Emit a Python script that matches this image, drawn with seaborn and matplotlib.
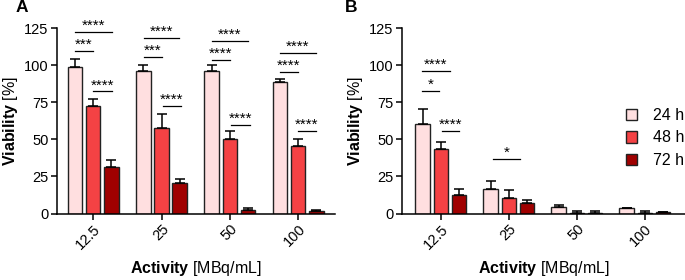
import pandas as pd
import seaborn as sns
import matplotlib as mpl
from matplotlib import pyplot as plt

# values
activity = ["12.5", "25", "50", "100"]
times = ["24 h", "48 h", "72 h"]

a_mean = {"24 h": [98.6, 96.3, 96.3, 88.5],
          "48 h": [72.4, 57.3, 50.4, 45.2],
          "72 h": [31.4, 20.4, 2.4, 1.5]}
a_err = {"24 h": [5.6, 4.1, 4.1, 1.8],
         "48 h": [4.8, 9.7, 4.9, 5.0],
         "72 h": [4.7, 3.1, 1.1, 0.7]}

b_mean = {"24 h": [60.4, 16.6, 4.7, 3.5],
          "48 h": [43.5, 10.5, 0.5, 0.5],
          "72 h": [12.6, 7.4, 0.5, 0.8]}
b_err = {"24 h": [9.9, 5.4, 1.2, 0.5],
         "48 h": [4.7, 5.0, 1.5, 1.0],
         "72 h": [4.2, 1.8, 1.5, 0.3]}

# significance brackets: (group, x start offset, x end offset, y, label)
a_sig = [(0, -0.27, 0.27, 122.5, "****"), (0, -0.27, 0.0, 109.5, "***"), (0, -0.01, 0.27, 82.3, "****"),
         (1, -0.26, 0.26, 118.5, "****"), (1, -0.26, 0.0, 105.4, "***"), (1, 0.02, 0.28, 72.4, "****"),
         (2, -0.26, 0.26, 116.4, "****"), (2, -0.26, 0.0, 103.6, "****"), (2, 0.02, 0.29, 59.9, "****"),
         (3, -0.27, 0.26, 108.0, "****"), (3, -0.27, 0.0, 95.3, "****"), (3, 0.0, 0.26, 55.8, "****")]
b_sig = [(0, -0.28, 0.13, 96.0, "****"), (0, -0.28, -0.03, 82.5, "*"), (0, 0.02, 0.27, 55.6, "****"),
         (1, -0.23, 0.17, 37.0, "*")]

colors = ["#FFDFE0", "#F44244", "#A00000"]

plt.rcParams['font.family'] = ['Liberation Sans', 'DejaVu Sans']
plt.rcParams['mathtext.fontset'] = 'custom'
plt.rcParams['mathtext.rm'] = 'Liberation Sans'
plt.rcParams['mathtext.bf'] = 'Liberation Sans:bold'


def to_long(means):
    rows = []
    for t in times:
        for act, v in zip(activity, means[t]):
            rows.append({"activity": act, "time": t, "viability": v})
    return pd.DataFrame(rows)


def draw_panel(ax, means, errs, sig, xlim):
    df = to_long(means)
    sns.barplot(data=df, x="activity", y="viability", hue="time", order=activity, hue_order=times,
                palette=colors, saturation=1, errorbar=None, edgecolor="#222222", linewidth=1.0,
                gap=0.2, legend=False, ax=ax)
    # upper-only error bars
    for cont, t in zip(ax.containers, times):
        for bar, e in zip(cont, errs[t]):
            xc = bar.get_x() + bar.get_width() / 2
            ax.errorbar(xc, bar.get_height(), yerr=[[0], [e]], fmt="none", ecolor="black",
                        elinewidth=1.1, capsize=3.5, capthick=1.1, zorder=1)
    for g, x0, x1, y, lab in sig:
        ax.plot([g + x0, g + x1], [y, y], color="black", lw=0.9, clip_on=False)
        ax.text(g + (x0 + x1) / 2, y + 1.4, lab, ha="center", va="baseline", fontsize=11,
                clip_on=False)
    ax.set_ylim(0, 125)
    ax.set_xlim(*xlim)
    ax.set_yticks([0, 25, 50, 75, 100, 125])
    sns.despine(ax=ax)
    for s in ["left", "bottom"]:
        ax.spines[s].set_linewidth(1.1)
    ax.tick_params(axis="both", length=4, width=1.1, labelsize=10.5, pad=2)
    plt.setp(ax.get_xticklabels(), rotation=45, ha="right", rotation_mode="anchor")
    ax.set_xlabel(r"$\mathbf{Activity}$ [MBq/mL]", fontsize=11.5, labelpad=5)
    ax.set_ylabel(r"$\mathbf{Viability}$ [%]", fontsize=11.5, labelpad=3)


fig = plt.figure(figsize=(6.85, 2.8), dpi=100)
ax_a = fig.add_axes([57 / 685, 1 - 213.5 / 280, (335 - 57) / 685, (213.5 - 28) / 280])
ax_b = fig.add_axes([402 / 685, 1 - 213.5 / 280, (685 - 402) / 685, (213.5 - 28) / 280])

draw_panel(ax_a, a_mean, a_err, a_sig, (-0.53, 3.54))
draw_panel(ax_b, b_mean, b_err, b_sig, (-0.57, 3.59))

handles = [mpl.patches.Patch(facecolor=c, edgecolor="#222222", linewidth=1.0) for c in colors]
fig.legend(handles, times, loc="center left", bbox_to_anchor=(626 / 685, 1 - 138 / 280),
           frameon=False, fontsize=11.5, handlelength=0.7, handleheight=0.7,
           handletextpad=1.0, labelspacing=0.45, borderpad=0, borderaxespad=0)

fig.text(16 / 685, 1 - 8 / 280, "A", fontsize=12.5, fontweight="bold", va="center")
fig.text(345 / 685, 1 - 8 / 280, "B", fontsize=12.5, fontweight="bold", va="center")

fig.savefig("out.png", dpi=100)
